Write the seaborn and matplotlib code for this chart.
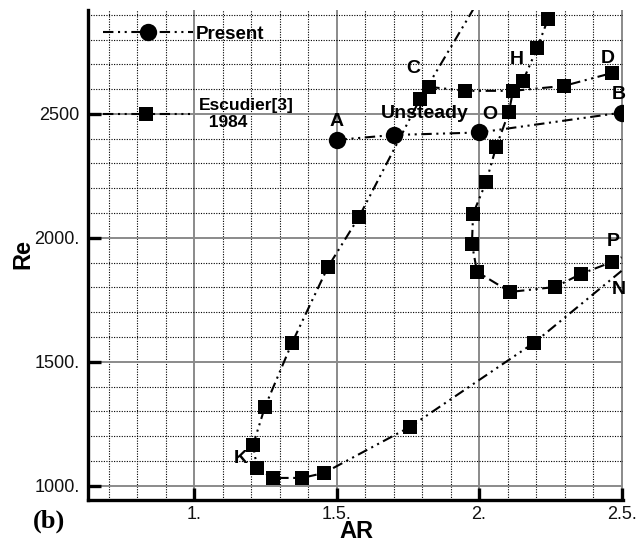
import numpy as np
import pandas as pd
import matplotlib
matplotlib.use("Agg")
import matplotlib.pyplot as plt
from matplotlib.lines import Line2D
from matplotlib.ticker import MultipleLocator
import seaborn as sns

# ---------------- data ----------------
present_ar = [1.5, 1.7, 2.0, 2.5]
present_re = [2395, 2415, 2425, 2505]

# Escudier branch N -> K -> up (first and last are off-marker line ends)
esc_kn_ar = [2.5, 2.193, 1.758, 1.456, 1.379, 1.277, 1.221, 1.207, 1.249, 1.344, 1.470, 1.579, 1.793, 2.02]
esc_kn_re = [1867, 1577, 1238, 1052, 1032, 1032, 1073, 1165, 1319, 1577, 1883, 2085, 2560, 3000]

# Escudier branch C -> D
esc_cd_ar = [1.825, 1.951, 2.119, 2.298, 2.467]
esc_cd_re = [2609, 2593, 2593, 2613, 2665]

# Escudier branch H -> O -> P (last is off-marker line end)
esc_hp_ar = [2.242, 2.204, 2.154, 2.119, 2.105, 2.060, 2.025, 1.979, 1.975, 1.993, 2.109, 2.267, 2.358, 2.467, 2.5]
esc_hp_re = [2883, 2766, 2633, 2593, 2508, 2367, 2226, 2097, 1976, 1863, 1782, 1802, 1855, 1903, 1922]

point_labels = ["A", "Unsteady", "O", "B", "C", "H", "D", "P", "N", "K"]
label_ar = [1.5, 1.81, 2.039, 2.491, 1.768, 2.133, 2.453, 2.47, 2.491, 1.165]
label_re = [2468, 2500, 2496, 2577, 2685, 2718, 2722, 1984, 1790, 1109]

x_ticks = [1.0, 1.5, 2.0, 2.5]
x_tick_labels = ["1.", "1.5.", "2.", "2.5."]
y_ticks = [1000, 1500, 2000, 2500]
y_tick_labels = ["1000.", "1500.", "2000.", "2500"]

legend_labels = ["Present", "Escudier[3]\n  1984"]

# ---------------- style ----------------
sns.set_theme(style="white")
plt.rcParams["font.family"] = ["Liberation Sans", "DejaVu Sans"]
plt.rcParams["text.color"] = "black"
plt.rcParams["axes.labelcolor"] = "black"
plt.rcParams["xtick.color"] = "black"
plt.rcParams["ytick.color"] = "black"

fig = plt.figure(figsize=(6.43, 5.45), dpi=100)
ax = fig.add_axes([88 / 643, 45 / 545, 535 / 643, 490 / 545])

dash = (0, (5, 2.2, 1, 2.2, 1, 2.2))
lw = 1.5

def draw(ar, re, marker, ms, markevery):
    df = pd.DataFrame({"AR": ar, "Re": re})
    sns.lineplot(data=df, x="AR", y="Re", sort=False, estimator=None, ax=ax,
                 color="black", linewidth=lw, linestyle=dash,
                 marker=marker, markersize=ms, markeredgewidth=0,
                 markerfacecolor="black", markevery=markevery, legend=False,
                 zorder=3)

draw(esc_kn_ar, esc_kn_re, "s", 9.5, list(range(1, len(esc_kn_ar) - 1)))
draw(esc_cd_ar, esc_cd_re, "s", 9.5, list(range(len(esc_cd_ar))))
draw(esc_hp_ar, esc_hp_re, "s", 9.5, list(range(len(esc_hp_ar) - 1)))
draw(present_ar, present_re, "o", 12.5, list(range(len(present_ar))))

ax.set_xlim(0.628, 2.505)
ax.set_ylim(943, 2919)

ax.set_xticks(x_ticks)
ax.set_xticklabels(x_tick_labels)
ax.set_yticks(y_ticks)
ax.set_yticklabels(y_tick_labels)
ax.xaxis.set_minor_locator(MultipleLocator(0.1))
ax.yaxis.set_minor_locator(MultipleLocator(100))

ax.set_axisbelow(True)
ax.grid(which="major", color="#8a8a8a", linewidth=1.4, linestyle="-")
ax.grid(which="minor", color="black", linewidth=0.8, linestyle=(0, (1, 1.3)))

for s in ["top", "right"]:
    ax.spines[s].set_visible(False)
for s in ["left", "bottom"]:
    ax.spines[s].set_visible(True)
    ax.spines[s].set_color("black")
    ax.spines[s].set_linewidth(2.4)

ax.tick_params(which="major", direction="in", length=9, width=2.4, color="black",
               labelsize=13, labelcolor="#111111", left=True, bottom=True)
ax.tick_params(axis="y", which="major", pad=6)
ax.tick_params(axis="x", which="major", pad=4)
ax.tick_params(which="minor", length=0)

ax.set_xlabel("AR", fontsize=17, fontweight="bold")
ax.set_ylabel("Re", fontsize=17, fontweight="bold")
ax.xaxis.label.set_va("center")
ax.yaxis.label.set_va("center")
ax.xaxis.set_label_coords((356 - 88) / 535, (500 - 531) / 490)
ax.yaxis.set_label_coords((23 - 88) / 535, (500 - 254) / 490)

for t, x, y in zip(point_labels, label_ar, label_re):
    ax.text(x, y, t, fontsize=14, fontweight="bold", ha="center", va="center",
            color="black", clip_on=False, zorder=4)

# legends
h_present = Line2D([], [], color="black", lw=lw, linestyle=dash, marker="o",
                   markersize=12.5, markeredgewidth=0)
h_esc = Line2D([], [], color="black", lw=lw, linestyle=dash, marker="s",
               markersize=9.5, markeredgewidth=0)

leg1 = ax.legend([h_present], [legend_labels[0]], loc="center left",
                 bbox_to_anchor=((103 - 88) / 535, (500 - 34) / 490),
                 frameon=False, borderpad=0, borderaxespad=0, numpoints=1,
                 handlelength=4.8, handletextpad=0.15, labelcolor="black",
                 prop={"size": 13.5, "weight": "bold"})
ax.add_artist(leg1)
leg2 = ax.legend([h_esc], [legend_labels[1]], loc="center left",
                 bbox_to_anchor=((103 - 88) / 535, (500 - 114) / 490),
                 frameon=False, borderpad=0, borderaxespad=0, numpoints=1,
                 handlelength=5.0, handletextpad=0.55, labelcolor="black",
                 prop={"size": 12.5, "weight": "bold"})

fig.text(49 / 643, 1 - 521 / 545, "(b)", fontsize=19, fontweight="bold",
         family=["Liberation Serif", "DejaVu Serif"], ha="center", va="center",
         color="black")

fig.savefig("out.png", dpi=100)
